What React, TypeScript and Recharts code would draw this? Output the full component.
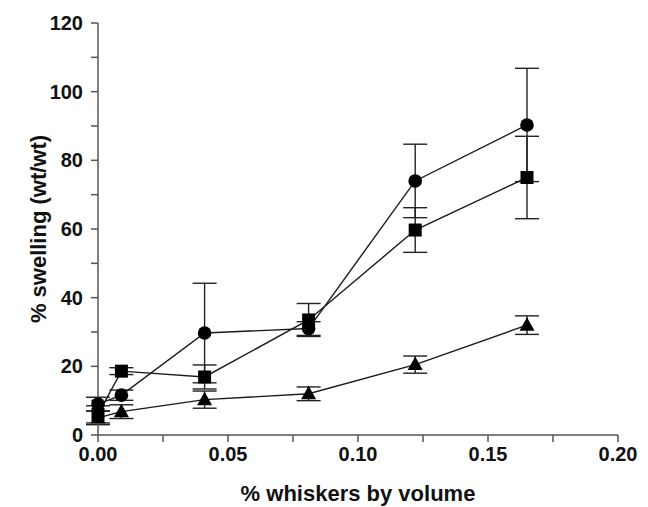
import { LineChart, Line, XAxis, YAxis, ErrorBar, Label } from 'recharts';

const xs = [0, 0.009, 0.041, 0.081, 0.122, 0.165];
const circle = [9, 11.6, 29.7, 31, 74, 90.3];
const circleErr = [2, 1.5, 14.5, 2, 10.7, 16.5];
const square = [6, 18.6, 16.9, 33.5, 59.7, 75];
const squareErr = [2.5, 1, 3.5, 4.8, 6.5, 12];
const triangle = [5, 6.8, 10.3, 12, 20.5, 32];
const triangleErr = [2, 2, 2.5, 2, 2.5, 2.7];

const xTicks = [0, 0.025, 0.05, 0.075, 0.1, 0.125, 0.15, 0.175, 0.2];
const yTicks = [0, 10, 20, 30, 40, 50, 60, 70, 80, 90, 100, 110, 120];

const data = xs.map((x, i) => ({
  x,
  c: circle[i],
  cErr: circleErr[i],
  s: square[i],
  sErr: squareErr[i],
  t: triangle[i],
  tErr: triangleErr[i],
}));

const font = '"Liberation Sans", Arial, sans-serif';
const tickStyle = { fontSize: 20, fontWeight: 700, fill: '#111', fontFamily: font };
const labelStyle = { fontSize: 22, fontWeight: 700, fill: '#111', fontFamily: font };

const CircleDot = (p: any) => (
  <circle key={`c${p.index}`} cx={p.cx} cy={p.cy} r={6.8} fill="#000" />
);
const SquareDot = (p: any) => (
  <rect key={`s${p.index}`} x={p.cx - 6.5} y={p.cy - 6.5} width={13} height={13} fill="#000" />
);
const TriangleDot = (p: any) => (
  <path
    key={`t${p.index}`}
    d={`M${p.cx},${p.cy - 8} L${p.cx + 7.5},${p.cy + 5.5} L${p.cx - 7.5},${p.cy + 5.5} Z`}
    fill="#000"
  />
);

export default function App() {
  return (
    <LineChart
      width={640}
      height={499}
      data={data}
      margin={{ top: 15, right: 30, bottom: 0, left: 0 }}
    >
      <XAxis
        type="number"
        dataKey="x"
        domain={[0, 0.2]}
        ticks={xTicks}
        interval={0}
        tickFormatter={(v: number) => (Math.round(v * 1000) % 50 === 0 ? v.toFixed(2) : '')}
        tick={tickStyle}
        tickSize={7}
        tickMargin={5}
        stroke="#555"
        strokeWidth={1.5}
        height={72}
      >
        <Label
          value="% whiskers by volume"
          position="insideBottom"
          offset={6}
          style={labelStyle}
        />
      </XAxis>
      <YAxis
        type="number"
        domain={[0, 120]}
        ticks={yTicks}
        interval={0}
        tickFormatter={(v: number) => (v % 20 === 0 ? String(v) : '')}
        tick={tickStyle}
        tickSize={7}
        tickMargin={8}
        stroke="#555"
        strokeWidth={1.5}
        width={90}
      >
        <Label
          value="% swelling (wt/wt)"
          angle={-90}
          position="insideLeft"
          offset={30}
          style={{ ...labelStyle, textAnchor: 'middle' }}
        />
      </YAxis>
      <Line
        dataKey="t"
        type="linear"
        stroke="#1a1a1a"
        strokeWidth={1.4}
        dot={TriangleDot}
        activeDot={false}
        isAnimationActive={false}
      >
        <ErrorBar dataKey="tErr" width={12} stroke="#222" strokeWidth={1.4} />
      </Line>
      <Line
        dataKey="s"
        type="linear"
        stroke="#1a1a1a"
        strokeWidth={1.4}
        dot={SquareDot}
        activeDot={false}
        isAnimationActive={false}
      >
        <ErrorBar dataKey="sErr" width={12} stroke="#222" strokeWidth={1.4} />
      </Line>
      <Line
        dataKey="c"
        type="linear"
        stroke="#1a1a1a"
        strokeWidth={1.4}
        dot={CircleDot}
        activeDot={false}
        isAnimationActive={false}
      >
        <ErrorBar dataKey="cErr" width={12} stroke="#222" strokeWidth={1.4} />
      </Line>
    </LineChart>
  );
}
